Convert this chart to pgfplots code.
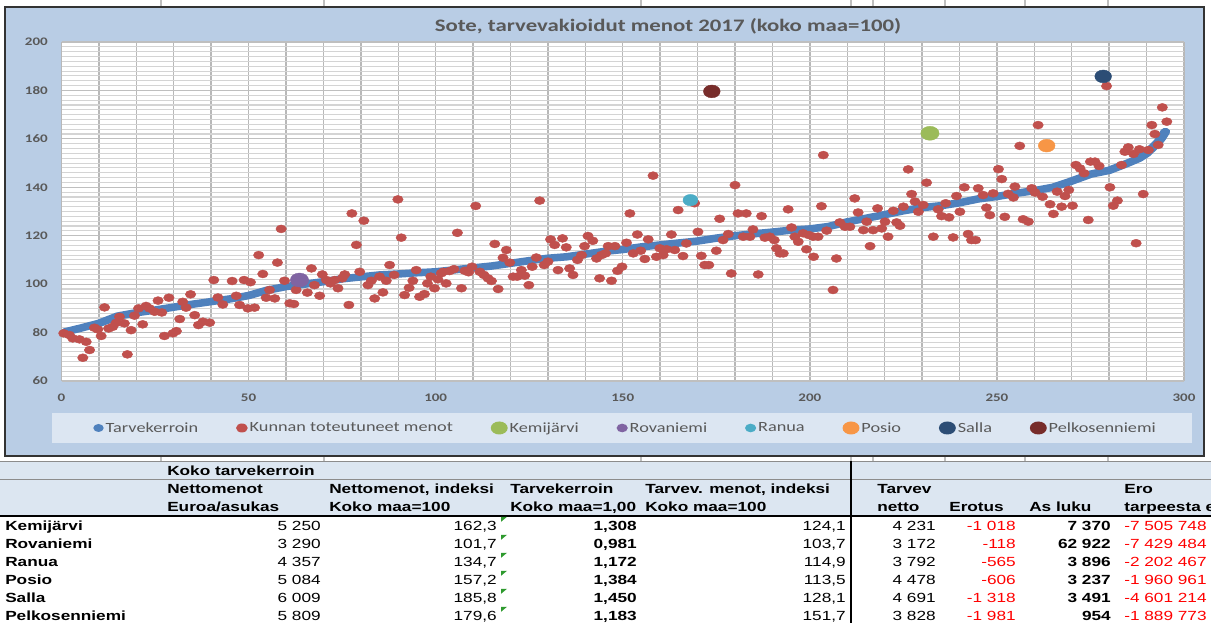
\documentclass[border=0pt]{standalone}
\usepackage{pgfplots}
\pgfplotsset{compat=1.18}
\usepackage{pgfplotstable}
\usepackage{graphicx}
\usepackage{fontspec}
\setmainfont{Liberation Sans}
\newfontfamily\carl{Carlito}

\definecolor{frameblue}{HTML}{B9CDE5}
\definecolor{legblue}{HTML}{DCE6F2}
\definecolor{hdr}{HTML}{DCE6F1}
\definecolor{tblue}{HTML}{4F81BD}
\definecolor{tred}{HTML}{C0504D}
\definecolor{tgreen}{HTML}{9BBB59}
\definecolor{tpurple}{HTML}{8064A2}
\definecolor{taqua}{HTML}{4BACC6}
\definecolor{torange}{HTML}{F79646}
\definecolor{tnavy}{HTML}{2C4D75}
\definecolor{tmaroon}{HTML}{772C2A}
\definecolor{txt}{HTML}{595959}
\definecolor{errred}{HTML}{FF0000}
\definecolor{trigreen}{HTML}{2E9A2E}

% Tarvekerroin (sorted need index)
\pgfplotstableread{
x y
1 80.3
5 81.8
10 83.8
15 86.8
20 88.2
25 89.3
30 90.5
35 91.7
40 92.8
45 93.9
50 95.3
55 97.5
60 99.0
65 100.0
70 101.0
75 102.2
80 103.0
85 103.8
90 104.2
95 104.7
100 105.1
105 105.9
110 106.7
115 107.5
120 108.6
125 109.7
130 110.7
135 111.3
140 112.4
145 113.5
150 114.3
155 115.4
160 116.2
165 117.0
170 117.8
175 119.0
180 120.0
185 120.8
190 121.5
195 122.3
200 122.8
205 123.8
210 125.7
215 127.2
220 128.7
225 130.3
230 131.6
235 132.4
240 133.6
245 135.2
250 136.2
255 137.5
260 138.6
265 140.0
270 142.6
275 145.4
280 147.0
285 150.0
288 152.0
290 154.0
292 157.0
293 158.5
294 160.5
295 163.0
}\tarve

% Kunnan toteutuneet menot
\pgfplotstableread{
x y
0.6 79.7
2.1 79.0
3.0 77.6
4.8 77.2
5.7 69.6
6.6 76.2
7.5 72.8
8.8 82.0
9.7 81.3
10.6 78.6
11.5 90.4
12.6 81.7
13.7 82.4
14.6 84.0
15.5 86.5
16.8 83.8
17.6 71.0
18.6 81.0
19.5 87.0
20.6 90.0
21.7 83.4
22.6 91.0
23.5 90.0
24.9 88.6
25.8 93.2
26.8 88.3
27.5 78.6
28.7 94.4
29.8 79.7
30.7 80.6
31.6 85.6
32.4 92.7
33.3 90.3
34.5 95.8
35.6 87.2
36.6 83.1
37.8 84.5
39.6 84.1
40.7 101.7
41.8 94.5
43.1 91.6
45.6 101.3
46.7 95.2
47.6 91.4
48.8 101.7
49.8 90.0
50.5 100.8
51.6 90.3
52.7 112.0
53.8 104.2
54.7 94.4
55.6 97.6
57.0 94.1
57.7 108.9
58.7 122.8
59.6 101.4
61.0 92.1
62.1 91.8
62.7 97.6
65.7 96.5
66.8 106.5
67.6 99.6
69.0 95.2
69.7 104.0
70.8 101.7
71.9 100.3
73.0 101.7
73.9 98.3
75.0 102.4
75.7 104.0
76.8 91.4
77.6 129.2
78.8 116.2
79.7 105.1
80.8 126.2
81.9 99.6
82.8 101.4
83.7 94.1
85.0 103.1
85.9 96.6
86.8 101.4
87.7 107.9
88.9 103.8
89.9 135.0
90.8 119.2
91.7 95.5
92.9 98.5
93.9 101.4
94.8 105.8
95.7 94.8
97.0 95.9
97.8 100.3
98.7 103.1
99.7 98.3
100.6 102.0
101.5 104.5
102.0 105.1
102.8 100.3
103.7 105.4
104.9 106.2
105.8 121.2
106.9 98.3
107.8 105.5
108.8 104.9
109.7 107.2
110.7 132.3
111.8 105.1
112.9 103.8
114.0 102.4
114.9 101.3
115.8 116.6
116.7 98.0
118.0 110.9
118.9 114.1
119.8 108.9
120.7 103.1
121.8 103.1
122.9 105.8
123.8 103.5
124.9 99.6
125.8 107.2
126.9 111.0
127.8 134.5
129.0 107.9
130.0 109.3
130.7 118.5
131.8 116.2
132.7 105.8
133.9 118.9
134.9 115.2
135.8 106.5
136.7 103.8
137.9 110.0
139.0 112.0
139.8 115.7
140.7 119.9
142.0 117.9
143.0 110.6
143.8 102.4
144.3 112.0
145.4 112.7
146.1 115.7
147.0 101.4
147.9 115.7
148.6 105.5
149.8 107.2
151.0 117.1
151.9 129.2
152.8 112.7
153.9 120.5
154.8 113.8
155.9 110.4
156.8 118.5
158.1 144.8
159.0 111.3
159.9 114.8
160.8 112.0
161.7 114.4
163.0 120.5
163.9 114.1
164.8 130.6
166.1 111.6
167.0 116.8
169.2 133.4
170.1 121.6
171.0 111.7
171.9 107.9
173.0 107.9
175.0 113.8
175.9 127.0
176.8 118.2
178.2 120.7
179.0 104.4
180.0 140.9
180.8 129.2
182.2 119.6
183.0 129.2
184.0 119.6
184.8 122.6
186.2 104.0
187.1 128.1
188.0 119.2
189.3 119.6
190.5 118.2
191.1 114.8
192.0 112.7
192.9 112.7
194.2 130.9
195.1 123.4
196.0 119.6
196.9 117.5
198.2 121.0
199.1 114.4
199.7 120.3
200.9 119.6
201.0 111.3
202.2 119.6
203.1 132.2
203.6 153.3
204.5 122.1
206.2 97.6
207.1 110.6
208.0 125.5
209.4 123.7
210.7 123.7
212.0 135.4
212.9 129.6
214.3 122.3
215.2 125.8
216.1 115.7
216.9 122.3
218.1 131.3
219.2 123.0
220.1 125.8
220.9 119.6
222.3 130.3
223.2 125.5
224.1 124.1
225.0 132.0
226.3 147.4
227.2 137.2
228.1 134.1
229.0 129.9
230.3 132.7
231.2 141.9
233.0 119.6
234.3 130.9
235.2 128.1
236.3 133.4
237.2 127.6
238.3 119.3
239.2 136.4
240.1 129.9
241.3 140.0
242.3 120.7
243.2 118.2
244.3 118.2
245.0 139.6
246.3 136.8
247.2 131.6
248.1 128.5
249.0 137.5
250.4 147.5
251.3 143.4
252.1 127.8
253.0 137.3
254.4 135.8
254.8 140.3
256.1 157.1
257.0 126.8
258.4 125.8
259.3 139.6
260.2 137.8
261.0 165.7
262.2 136.1
264.2 133.0
265.1 129.0
266.1 138.2
267.3 132.0
268.2 136.4
269.2 138.9
270.2 132.4
271.1 149.2
272.2 147.8
273.3 145.8
274.4 126.5
275.0 150.6
276.2 150.6
277.3 148.8
279.3 181.8
280.2 140.0
281.1 132.4
282.2 134.5
283.3 149.2
284.2 154.7
285.1 156.5
286.5 153.8
287.2 116.9
288.1 155.7
289.1 137.2
290.5 155.4
291.4 165.7
292.2 162.0
293.1 157.5
294.2 173.0
295.4 167.1
}\menot

\newcommand\tabfont{\fontsize{13.3}{15}\selectfont}
\def\ry{530.8}
\newcommand\trow[9]{%
  \node[anchor=base west,font=\tabfont\bfseries] at (5,\ry) {#1};
  \node[anchor=base east] at (321,\ry) {#2};
  \node[anchor=base east] at (497,\ry) {#3};
  \node[anchor=base east,font=\tabfont\bfseries] at (637,\ry) {#4};
  \node[anchor=base east] at (846,\ry) {#5};
  \node[anchor=base east] at (936,\ry) {#6};
  \node[anchor=base east,text=errred] at (1016,\ry) {#7};
  \node[anchor=base east,font=\tabfont\bfseries] at (1111,\ry) {#8};
  \node[anchor=base west,text=errred] at (1124,\ry) {#9};
  \fill[trigreen] (501,\ry-14) -- (507,\ry-14) -- (501,\ry-9) -- cycle;
  \pgfmathsetmacro\ry{\ry+18}\xdef\ry{\ry}%
}
% legend dot of a given colour and radius
\newcommand\legdot[2]{\path[fill=#1,draw=none] (0bp,0bp) circle (#2);}

\begin{document}
\scalebox{1.3}[1]{%
\begin{tikzpicture}
\useasboundingbox (0,0) rectangle (931.54bp,-623bp);
\clip (0,0) rectangle (931.54bp,-623bp);
\begin{scope}[x=0.76923bp,y=-1bp]
  \fill[white] (0,0) rectangle (1211,623);
  \foreach \gx in {161,324,641,851,873,945,1025,1108}
    \draw[black!25,line width=0.8bp] (\gx,0) -- (\gx,7) (\gx,456) -- (\gx,461);
  \fill[frameblue] (5,7) rectangle (1204,456);
  \draw[black!80,line width=1.5bp] (5,7) rectangle (1204,456);
  \fill[legblue] (52,413) rectangle (1192,443);
  \node[font=\carl\bfseries\fontsize{17.6}{20}\selectfont,text=txt] at (668,26)
    {Sote, tarvevakioidut menot 2017 (koko maa=100)};
\end{scope}

\begin{axis}[
  at={(47.31bp,-381bp)}, anchor=south west,
  scale only axis, width=863.46bp, height=339bp,
  xmin=0, xmax=300, ymin=60, ymax=200,
  xtick={0,50,...,300}, ytick={60,80,...,200},
  minor x tick num=4, minor y tick num=9,
  grid=both,
  major x grid style={draw=black!28,line width=1.1bp},
  minor x grid style={draw=black!28,line width=1.1bp},
  major y grid style={draw=black!25,line width=1.1bp},
  minor y grid style={draw=black!17,line width=1.1bp},
  axis line style={draw=none}, tick style={draw=none},
  axis background/.style={fill=white},
  /pgf/number format/assume math mode=true,
  tick label style={font=\carl\bfseries\fontsize{11.6}{13}\selectfont,text=txt},
  xticklabel style={yshift=-9bp},
  yticklabel style={xshift=-7bp},
  legend columns=8, legend cell align=left,
  legend style={draw=none, fill=none, at={(0.5025,-0.1386)}, anchor=center,
    font=\carl\fontsize{14.1}{15}\selectfont,
    nodes={inner xsep=1.5bp, inner ysep=1bp, text=txt},
    /tikz/every even column/.append style={column sep=27.6bp}},
]
\addplot[tblue, line width=7.5bp, line join=round, line cap=round, no marks,
  legend image code/.code={\legdot{tblue}{4bp}}] table {\tarve};
\addlegendentry{Tarvekerroin}
\addplot[only marks, mark=*, mark size=4bp, color=tred, mark options={draw=none,fill=tred},
  legend image code/.code={\legdot{tred}{4.5bp}}] table {\menot};
\addlegendentry{Kunnan toteutuneet menot}
\addplot[only marks, mark=*, mark size=7bp, color=tgreen, mark options={draw=none,fill=tgreen},
  legend image code/.code={\legdot{tgreen}{6.5bp}}] coordinates {(232.1,162.3)};
\addlegendentry{Kemijärvi}
\addplot[only marks, mark=*, mark size=7bp, color=tpurple, mark options={draw=none,fill=tpurple},
  legend image code/.code={\legdot{tpurple}{4.3bp}}] coordinates {(63.6,101.7)};
\addlegendentry{Rovaniemi}
\addplot[only marks, mark=*, mark size=5.7bp, color=taqua, mark options={draw=none,fill=taqua},
  legend image code/.code={\legdot{taqua}{4.3bp}}] coordinates {(168.1,134.7)};
\addlegendentry{Ranua}
\addplot[only marks, mark=*, mark size=6.4bp, color=torange, mark options={draw=none,fill=torange},
  legend image code/.code={\legdot{torange}{6.5bp}}] coordinates {(263.3,157.2)};
\addlegendentry{Posio}
\addplot[only marks, mark=*, mark size=6.4bp, color=tnavy, mark options={draw=none,fill=tnavy},
  legend image code/.code={\legdot{tnavy}{6.5bp}}] coordinates {(278.4,185.8)};
\addlegendentry{Salla}
\addplot[only marks, mark=*, mark size=6.4bp, color=tmaroon, mark options={draw=none,fill=tmaroon},
  legend image code/.code={\legdot{tmaroon}{6.5bp}}] coordinates {(173.8,179.6)};
\addlegendentry{Pelkosenniemi}
\end{axis}

\begin{scope}[x=0.76923bp,y=-1bp,every node/.style={font=\tabfont,inner sep=0pt}]
  \fill[hdr] (0,461) rectangle (1211,516);
  \draw[black!45,line width=0.8bp] (0,461) -- (1211,461);
  \draw[black!45,line width=0.8bp] (0,479) -- (1211,479);
  \draw[black,line width=1.6bp] (0,516) -- (1211,516);
  \draw[black,line width=1bp] (851,461) -- (851,623);
  \begin{scope}[every node/.style={font=\tabfont\bfseries,inner sep=0pt,anchor=base west}]
    \node at (167,475.8) {Koko tarvekerroin};
    \node at (167,493.8) {Nettomenot};
    \node at (329,493.8) {Nettomenot, indeksi};
    \node at (510,493.8) {Tarvekerroin};
    \node at (645,493.8) {Tarvev. menot, indeksi};
    \node at (877,493.8) {Tarvev};
    \node at (1124,493.8) {Ero};
    \node at (167,511.8) {Euroa/asukas};
    \node at (329,511.8) {Koko maa=100};
    \node at (510,511.8) {Koko maa=1,00};
    \node at (645,511.8) {Koko maa=100};
    \node at (877,511.8) {netto};
    \node at (949,511.8) {Erotus};
    \node at (1029,511.8) {As luku};
    \node at (1124,511.8) {tarpeesta euroa};
  \end{scope}
  \trow{Kemijärvi}{5 250}{162,3}{1,308}{124,1}{4 231}{-1 018}{7 370}{-7 505 748}
  \trow{Rovaniemi}{3 290}{101,7}{0,981}{103,7}{3 172}{-118}{62 922}{-7 429 484}
  \trow{Ranua}{4 357}{134,7}{1,172}{114,9}{3 792}{-565}{3 896}{-2 202 467}
  \trow{Posio}{5 084}{157,2}{1,384}{113,5}{4 478}{-606}{3 237}{-1 960 961}
  \trow{Salla}{6 009}{185,8}{1,450}{128,1}{4 691}{-1 318}{3 491}{-4 601 214}
  \trow{Pelkosenniemi}{5 809}{179,6}{1,183}{151,7}{3 828}{-1 981}{954}{-1 889 773}
\end{scope}
\end{tikzpicture}}
\end{document}
